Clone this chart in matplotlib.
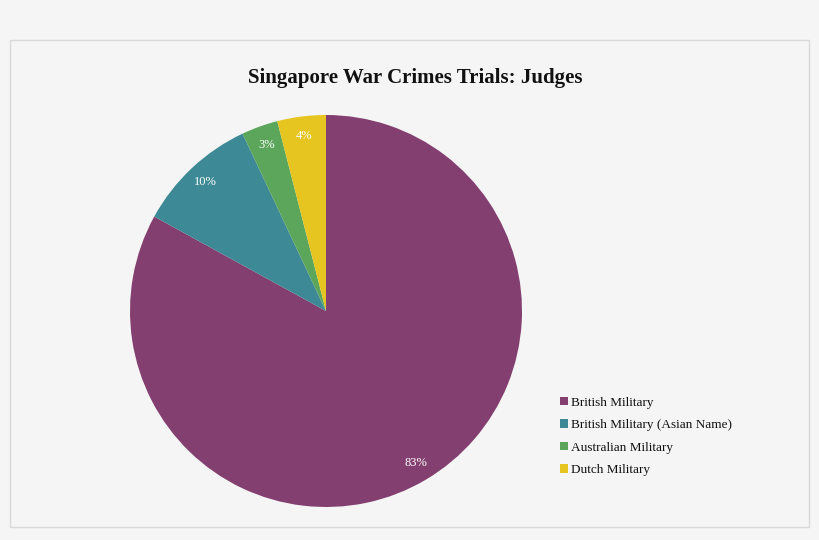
import matplotlib
matplotlib.use('Agg')
import matplotlib.pyplot as plt
from matplotlib.patches import Rectangle

# data
categories = ['British Military', 'British Military (Asian Name)', 'Australian Military', 'Dutch Military']
shares = [83, 10, 3, 4]
colors = ['#833f6f', '#3d8a96', '#5ba65a', '#e6c521']

plt.rcParams['font.family'] = ['Liberation Serif', 'DejaVu Serif']

fig = plt.figure(figsize=(8.2, 5.4), dpi=100, facecolor='#f5f5f5')

# outer border
fig.patches.append(Rectangle((10 / 820, 13 / 540), 799 / 820, 487 / 540, transform=fig.transFigure,
                             facecolor='none', edgecolor='#d9d9d9', linewidth=1))

fig.text(415 / 820, 1 - 78 / 540, 'Singapore War Crimes Trials: Judges', ha='center', va='center',
         fontsize=15, fontweight='bold', color='#111111')

cx, cy, r = 326, 311, 196
ax = fig.add_axes([(cx - r) / 820, (540 - cy - r) / 540, 2 * r / 820, 2 * r / 540])
wedges, texts, autotexts = ax.pie(shares, colors=colors, startangle=90, counterclock=False,
                                  autopct='%d%%', pctdistance=0.9,
                                  wedgeprops={'linewidth': 0},
                                  textprops={'color': 'white', 'fontsize': 9})
ax.set_xlim(-1, 1)
ax.set_ylim(-1, 1)
ax.set_aspect('equal')
ax.axis('off')

leg = fig.legend(wedges, categories, loc='upper left', bbox_to_anchor=(553 / 820, 1 - 390 / 540),
                 frameon=False, fontsize=9.5, handlelength=0.6, handleheight=0.6,
                 handletextpad=0.3, labelspacing=0.8, borderpad=0)
for t in leg.get_texts():
    t.set_color('#111111')

fig.savefig('out.png', dpi=100, facecolor=fig.get_facecolor())
